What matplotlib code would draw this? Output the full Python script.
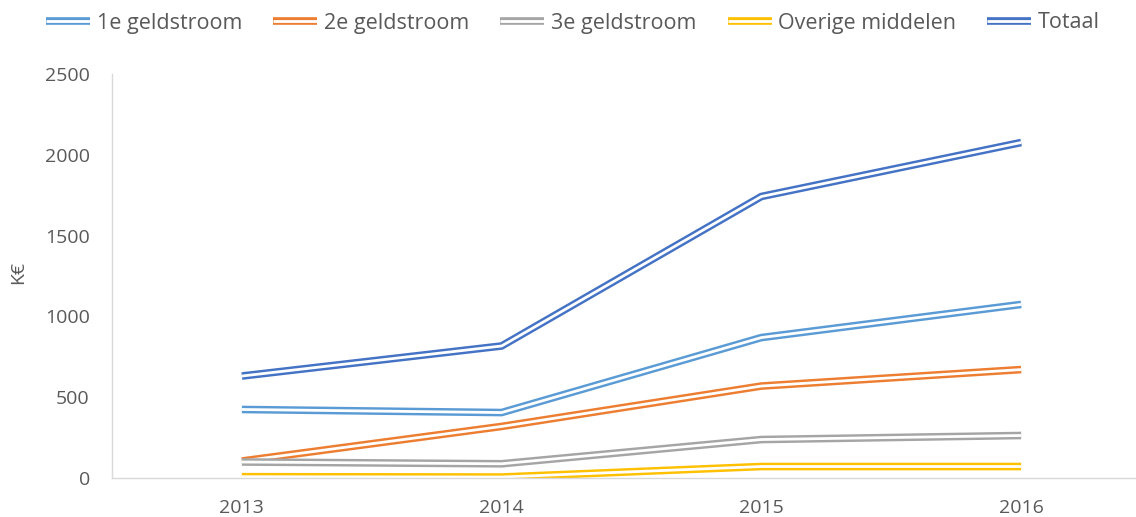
import matplotlib.pyplot as plt
import matplotlib.patheffects as pe
from matplotlib.lines import Line2D

plt.rcParams['font.family'] = ['Open Sans', 'DejaVu Sans']

years = ["2013", "2014", "2015", "2016"]
series_names = ["1e geldstroom", "2e geldstroom", "3e geldstroom", "Overige middelen", "Totaal"]
eerste = [424, 405, 869, 1074]
tweede = [105, 319, 569, 671]
derde = [99, 88, 238, 263]
overige = [8, 6, 71, 71]
totaal = [631, 817, 1742, 2076]
colors = ["#5b9bd5", "#ed7d31", "#a5a5a5", "#ffc000", "#4472c4"]

text_col = "#595959"
outer_w = 5.5
inner_w = 2.0

fig = plt.figure(figsize=(11.36, 5.17), dpi=100)
ax = fig.add_axes([112 / 1136, 39 / 517, 1039 / 1136, 404 / 517])

x = list(range(len(years)))
handles = []
for vals, col in zip([eerste, tweede, derde, overige, totaal], colors):
    effects = [pe.Stroke(linewidth=outer_w, foreground=col), pe.Normal()]
    ax.plot(x, vals, color="white", lw=inner_w, solid_joinstyle='miter',
            solid_capstyle='butt', path_effects=effects)
    handles.append(Line2D([], [], color="white", lw=inner_w, solid_capstyle='butt',
                          path_effects=effects))

ax.set_xlim(-0.5, 3.5)
ax.set_ylim(0, 2500)
ax.set_xticks(x)
ax.set_xticklabels(years)
ax.set_yticks(range(0, 2501, 500))
ax.tick_params(axis='both', length=0, labelsize=14, colors=text_col)
ax.tick_params(axis='x', pad=15)
ax.tick_params(axis='y', pad=16)
for s in ["top", "right"]:
    ax.spines[s].set_visible(False)
for s in ["left", "bottom"]:
    ax.spines[s].set_color("#d9d9d9")
    ax.spines[s].set_linewidth(1)

fig.text(18 / 1136, 1 - 272 / 517, "K€", rotation=90, ha='center', va='center',
         fontsize=14, color=text_col)

leg = fig.legend(handles, series_names, loc='center', bbox_to_anchor=(573 / 1136, 1 - 23 / 517),
                 ncol=5, frameon=False, fontsize=15.5, handlelength=2.05, handletextpad=0.3,
                 columnspacing=1.45)
for t in leg.get_texts():
    t.set_color(text_col)

fig.savefig("out.png", dpi=100)
